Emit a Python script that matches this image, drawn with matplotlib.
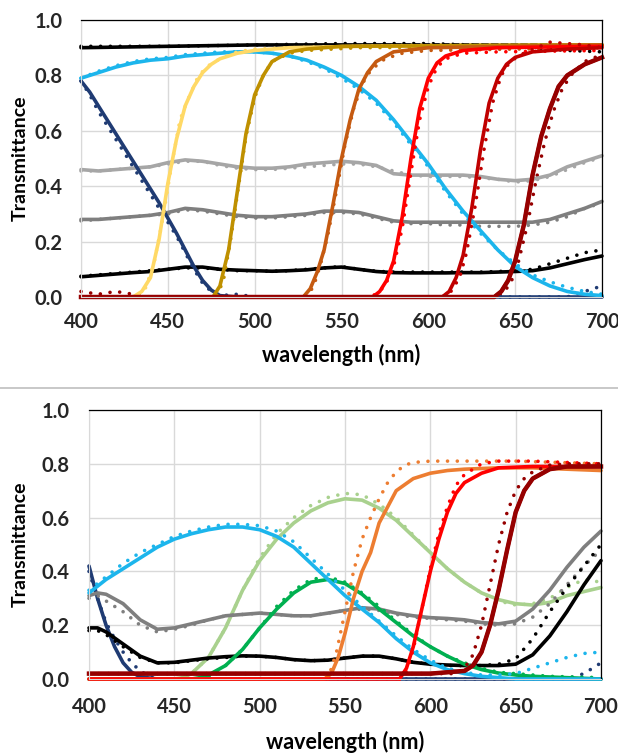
import matplotlib
matplotlib.use("Agg")
import matplotlib.pyplot as plt
from matplotlib.lines import Line2D

plt.rcParams["font.family"] = ["Lato", "DejaVu Sans"]
plt.rcParams["font.weight"] = "bold"

# ---------------------------------------------------------------------------
# data
# ---------------------------------------------------------------------------
wl10 = list(range(400, 701, 10))

# ----- top panel -----
top_black_hi_wl = [400, 450, 500, 550, 600, 650, 700]
top_black_hi = [0.90, 0.905, 0.91, 0.91, 0.91, 0.91, 0.91]
top_black_hi_dot_wl = [400, 450, 500, 550, 600, 650, 680, 700]
top_black_hi_dot = [0.905, 0.905, 0.91, 0.915, 0.915, 0.905, 0.89, 0.885]

top_cyan = [0.79, 0.81, 0.83, 0.845, 0.855, 0.86, 0.87, 0.875, 0.88, 0.885, 0.885,
            0.88, 0.87, 0.855, 0.83, 0.80, 0.76, 0.71, 0.64, 0.56, 0.48,
            0.39, 0.31, 0.24, 0.17, 0.11, 0.07, 0.04, 0.02, 0.01, 0.005]
top_cyan_dot = [0.79, 0.815, 0.835, 0.85, 0.86, 0.865, 0.875, 0.88, 0.885, 0.885, 0.885,
                0.88, 0.87, 0.85, 0.825, 0.79, 0.75, 0.70, 0.63, 0.55, 0.47,
                0.38, 0.30, 0.23, 0.17, 0.12, 0.08, 0.055, 0.035, 0.02, 0.01]

top_navy_wl = [400, 405, 410, 415, 420, 425, 430, 435, 440, 445, 450, 455, 460,
               465, 470, 475, 480, 490, 700]
top_navy = [0.78, 0.74, 0.69, 0.64, 0.59, 0.54, 0.49, 0.44, 0.39, 0.34, 0.285, 0.23,
            0.17, 0.11, 0.06, 0.025, 0.005, 0.0, 0.0]
top_navy_dot_wl = [400, 405, 410, 415, 420, 425, 430, 435, 440, 445, 450, 455, 460,
                   465, 470, 475, 480, 490, 500, 680, 690, 700]
top_navy_dot = [0.78, 0.73, 0.67, 0.62, 0.57, 0.52, 0.47, 0.42, 0.37, 0.32, 0.27, 0.22,
                0.16, 0.10, 0.05, 0.02, 0.005, 0.01, 0.0, 0.0, 0.02, 0.04]

top_lgray = [0.46, 0.455, 0.46, 0.465, 0.47, 0.485, 0.495, 0.49, 0.48, 0.47, 0.465,
             0.465, 0.47, 0.48, 0.485, 0.49, 0.485, 0.475, 0.445, 0.44, 0.44,
             0.44, 0.44, 0.435, 0.425, 0.42, 0.425, 0.44, 0.47, 0.49, 0.51]
top_lgray_dot = [0.455, 0.455, 0.46, 0.465, 0.47, 0.48, 0.49, 0.49, 0.475, 0.465, 0.46,
                 0.46, 0.465, 0.47, 0.475, 0.48, 0.48, 0.47, 0.455, 0.44, 0.435,
                 0.435, 0.435, 0.43, 0.425, 0.415, 0.42, 0.435, 0.46, 0.485, 0.505]

top_gray = [0.28, 0.28, 0.285, 0.29, 0.295, 0.305, 0.32, 0.315, 0.305, 0.295, 0.29,
            0.29, 0.295, 0.30, 0.31, 0.31, 0.305, 0.29, 0.275, 0.27, 0.27,
            0.27, 0.27, 0.27, 0.27, 0.27, 0.27, 0.28, 0.30, 0.32, 0.345]
top_gray_dot = [0.275, 0.28, 0.285, 0.29, 0.295, 0.30, 0.315, 0.31, 0.30, 0.29, 0.285,
                0.285, 0.29, 0.295, 0.305, 0.305, 0.30, 0.285, 0.27, 0.265, 0.265,
                0.26, 0.26, 0.255, 0.255, 0.255, 0.26, 0.27, 0.29, 0.32, 0.34]

top_black_lo = [0.073, 0.078, 0.083, 0.088, 0.092, 0.10, 0.108, 0.108, 0.10, 0.097, 0.095,
                0.093, 0.095, 0.098, 0.105, 0.108, 0.10, 0.092, 0.088, 0.087, 0.087,
                0.087, 0.088, 0.088, 0.09, 0.092, 0.095, 0.105, 0.12, 0.135, 0.148]
top_black_lo_dot = [0.075, 0.08, 0.085, 0.09, 0.095, 0.10, 0.105, 0.105, 0.10, 0.095, 0.095,
                    0.093, 0.095, 0.10, 0.105, 0.11, 0.10, 0.093, 0.09, 0.09, 0.09,
                    0.09, 0.09, 0.09, 0.092, 0.095, 0.10, 0.12, 0.14, 0.16, 0.17]

top_yellow_wl = [400, 430, 435, 440, 445, 450, 455, 460, 465, 470, 475, 480, 490, 500, 520, 560, 700]
top_yellow = [0, 0, 0.02, 0.07, 0.21, 0.41, 0.57, 0.69, 0.76, 0.81, 0.84, 0.86, 0.88,
              0.89, 0.90, 0.905, 0.91]
top_yellow_dot_wl = [400, 432, 437, 442, 447, 452, 457, 462, 467, 472, 480, 490, 500, 520, 600, 700]
top_yellow_dot = [0, 0, 0.03, 0.12, 0.28, 0.47, 0.64, 0.72, 0.79, 0.83, 0.86, 0.885,
                  0.895, 0.90, 0.91, 0.91]

top_gold_wl = [400, 476, 480, 485, 490, 495, 500, 505, 510, 520, 530, 550, 700]
top_gold = [0, 0, 0.04, 0.17, 0.38, 0.59, 0.73, 0.80, 0.85, 0.885, 0.895, 0.905, 0.91]
top_gold_dot_wl = [400, 478, 482, 486, 490, 495, 500, 505, 510, 520, 530, 560, 700]
top_gold_dot = [0, 0, 0.06, 0.20, 0.37, 0.58, 0.72, 0.80, 0.85, 0.88, 0.89, 0.90, 0.905]

top_orange_wl = [400, 528, 532, 536, 540, 545, 550, 555, 560, 565, 570, 580, 600, 650, 700]
top_orange = [0, 0, 0.03, 0.09, 0.17, 0.33, 0.50, 0.64, 0.75, 0.81, 0.85, 0.885, 0.90, 0.905, 0.91]
top_orange_dot_wl = [400, 530, 534, 538, 542, 547, 552, 557, 562, 567, 575, 585, 600, 700]
top_orange_dot = [0, 0, 0.04, 0.12, 0.22, 0.38, 0.55, 0.68, 0.77, 0.82, 0.86, 0.88, 0.89, 0.90]

top_red_wl = [400, 568, 572, 576, 580, 585, 590, 595, 600, 605, 610, 620, 640, 700]
top_red = [0, 0, 0.02, 0.06, 0.13, 0.29, 0.50, 0.68, 0.79, 0.845, 0.87, 0.89, 0.90, 0.905]
top_red_dot_wl = [400, 565, 570, 575, 580, 585, 590, 595, 600, 605, 610, 620, 640, 700]
top_red_dot = [0, 0, 0.01, 0.04, 0.11, 0.25, 0.45, 0.64, 0.76, 0.83, 0.86, 0.88, 0.885, 0.89]

top_dred_wl = [400, 608, 612, 616, 620, 625, 630, 635, 640, 645, 650, 660, 680, 700]
top_dred = [0, 0, 0.02, 0.07, 0.15, 0.32, 0.53, 0.70, 0.79, 0.84, 0.865, 0.885, 0.895, 0.90]
top_dred_dot_wl = [400, 608, 613, 618, 622, 627, 632, 637, 642, 647, 655, 670, 690, 700]
top_dred_dot = [0, 0, 0.02, 0.07, 0.16, 0.33, 0.53, 0.70, 0.80, 0.85, 0.88, 0.92, 0.91, 0.90]

top_ddred_wl = [400, 638, 642, 646, 650, 655, 660, 665, 670, 675, 680, 690, 700]
top_ddred = [0, 0, 0.02, 0.06, 0.13, 0.26, 0.44, 0.58, 0.68, 0.76, 0.80, 0.84, 0.865]
top_ddred_dot_wl = [400, 410, 420, 430, 440, 640, 644, 648, 652, 657, 662, 667, 672, 677,
                    682, 690, 700]
top_ddred_dot = [0.02, 0.01, 0.02, 0.01, 0.0, 0.0, 0.02, 0.06, 0.13, 0.26, 0.42, 0.56,
                 0.67, 0.75, 0.80, 0.85, 0.875]

# ----- bottom panel -----
bot_cyan = [0.32, 0.37, 0.41, 0.45, 0.49, 0.52, 0.54, 0.555, 0.565, 0.565, 0.555,
            0.53, 0.49, 0.43, 0.37, 0.31, 0.26, 0.21, 0.15, 0.10, 0.06,
            0.035, 0.02, 0.01, 0.005, 0.0, 0.0, 0.0, 0.0, 0.0, 0.0]
bot_cyan_dot = [0.33, 0.38, 0.43, 0.47, 0.50, 0.53, 0.55, 0.565, 0.575, 0.575, 0.57,
                0.55, 0.51, 0.45, 0.39, 0.33, 0.27, 0.215, 0.16, 0.11, 0.07,
                0.04, 0.025, 0.015, 0.015, 0.02, 0.04, 0.06, 0.08, 0.095, 0.10]

bot_navy_wl = [400, 405, 410, 415, 420, 425, 430, 440, 700]
bot_navy = [0.42, 0.30, 0.20, 0.12, 0.06, 0.025, 0.008, 0.0, 0.0]
bot_navy_dot_wl = [400, 405, 410, 415, 420, 425, 430, 435, 440, 680, 690, 700]
bot_navy_dot = [0.40, 0.30, 0.21, 0.15, 0.10, 0.06, 0.03, 0.01, 0.0, 0.0, 0.02, 0.06]

bot_gray_wl = [400, 405] + wl10[1:]
bot_gray = [0.31, 0.32, 0.315, 0.28, 0.22, 0.185, 0.19, 0.205, 0.22, 0.235, 0.24, 0.245,
            0.24, 0.235, 0.235, 0.245, 0.255, 0.265, 0.26, 0.245, 0.235, 0.228,
            0.225, 0.22, 0.21, 0.205, 0.215, 0.26, 0.33, 0.415, 0.49, 0.55]
bot_gray_dot = [0.30, 0.31, 0.29, 0.25, 0.20, 0.175, 0.185, 0.20, 0.22, 0.235, 0.24, 0.245,
                0.24, 0.235, 0.235, 0.245, 0.255, 0.26, 0.255, 0.24, 0.23, 0.225,
                0.22, 0.215, 0.205, 0.20, 0.205, 0.23, 0.28, 0.35, 0.42, 0.48]

bot_black_wl = [400, 405] + wl10[1:]
bot_black = [0.19, 0.19, 0.175, 0.13, 0.085, 0.06, 0.062, 0.07, 0.078, 0.083, 0.086, 0.085,
             0.08, 0.072, 0.068, 0.07, 0.078, 0.085, 0.085, 0.075, 0.062, 0.055,
             0.052, 0.05, 0.05, 0.05, 0.055, 0.09, 0.16, 0.25, 0.35, 0.44]
bot_black_dot = [0.18, 0.18, 0.165, 0.12, 0.08, 0.06, 0.06, 0.068, 0.075, 0.08, 0.085, 0.085,
                 0.08, 0.072, 0.068, 0.07, 0.078, 0.085, 0.085, 0.075, 0.062, 0.055,
                 0.05, 0.05, 0.05, 0.055, 0.075, 0.15, 0.25, 0.34, 0.42, 0.50]

bot_lgreen_wl = [400, 450, 455] + wl10[6:]
bot_lgreen = [0, 0, 0.005, 0.02, 0.08, 0.19, 0.33, 0.44, 0.52, 0.58, 0.625, 0.655, 0.67,
              0.665, 0.635, 0.59, 0.53, 0.47, 0.41, 0.36, 0.32, 0.295, 0.28, 0.275,
              0.285, 0.31, 0.325, 0.34]
bot_lgreen_dot_wl = [400, 455] + wl10[6:]
bot_lgreen_dot = [0, 0, 0.02, 0.08, 0.19, 0.33, 0.45, 0.54, 0.60, 0.645, 0.675, 0.69,
                  0.685, 0.65, 0.60, 0.535, 0.47, 0.41, 0.36, 0.32, 0.29, 0.275, 0.28,
                  0.30, 0.34, 0.37, 0.36]

bot_green_wl = [400, 460, 465, 470, 480, 490, 500, 510, 520, 530, 540, 550, 560, 570, 580,
                590, 600, 610, 620, 630, 640, 650, 660, 680, 700]
bot_green = [0, 0, 0.005, 0.015, 0.05, 0.11, 0.19, 0.26, 0.32, 0.36, 0.37, 0.355, 0.315,
             0.26, 0.21, 0.16, 0.12, 0.085, 0.055, 0.035, 0.022, 0.015, 0.01, 0.005, 0.0]
bot_green_dot_wl = [465, 470, 480, 490, 500, 510, 520, 530, 540, 550, 560, 570, 580, 590,
                    600, 610, 620, 630, 640, 650, 670, 700]
bot_green_dot = [0, 0.01, 0.05, 0.11, 0.19, 0.27, 0.33, 0.37, 0.38, 0.36, 0.32, 0.27, 0.215,
                 0.165, 0.12, 0.085, 0.06, 0.04, 0.025, 0.02, 0.01, 0.005]

bot_orange_wl = [400, 538, 542, 546, 550, 555, 560, 565, 570, 575, 580, 590, 600, 610,
                 620, 640, 660, 680, 700]
bot_orange = [0, 0, 0.02, 0.08, 0.17, 0.30, 0.40, 0.47, 0.58, 0.64, 0.70, 0.745, 0.765,
              0.775, 0.78, 0.785, 0.785, 0.78, 0.775]
bot_orange_dot_wl = [540, 545, 550, 555, 560, 565, 570, 575, 580, 585, 590, 600, 650, 700]
bot_orange_dot = [0.0, 0.10, 0.25, 0.40, 0.52, 0.60, 0.67, 0.73, 0.77, 0.795, 0.805,
                  0.81, 0.81, 0.80]

bot_red_wl = [400, 582, 586, 590, 595, 600, 605, 610, 615, 620, 630, 640, 660, 700]
bot_red = [0, 0, 0.04, 0.12, 0.26, 0.40, 0.52, 0.62, 0.69, 0.73, 0.765, 0.785, 0.79, 0.79]
bot_red_dot_wl = [582, 586, 590, 595, 600, 605, 610, 615, 620, 630, 640, 660, 700]
bot_red_dot = [0, 0.03, 0.11, 0.26, 0.41, 0.54, 0.64, 0.72, 0.76, 0.80, 0.81, 0.81, 0.80]

bot_dred_wl = [400, 600, 620, 625, 630, 635, 640, 645, 650, 655, 660, 670, 680, 700]
bot_dred = [0.02, 0.02, 0.03, 0.05, 0.10, 0.20, 0.33, 0.48, 0.62, 0.70, 0.745, 0.78, 0.79, 0.79]
bot_dred_dot_wl = [400, 615, 620, 625, 630, 635, 640, 645, 650, 655, 660, 670, 680, 700]
bot_dred_dot = [0.02, 0.02, 0.04, 0.09, 0.20, 0.35, 0.50, 0.62, 0.70, 0.745, 0.77, 0.795,
                0.80, 0.80]

x_ticks = [400, 450, 500, 550, 600, 650, 700]
y_ticks = [0.0, 0.2, 0.4, 0.6, 0.8, 1.0]

# colours (Excel palette)
c_black = "#000000"
c_cyan = "#1CB5EC"
c_navy = "#1F3B73"
c_lgray = "#A6A6A6"
c_gray = "#7F7F7F"
c_yellow = "#FFD966"
c_gold = "#BF9000"
c_brown = "#C55A11"
c_red = "#FF0000"
c_dred = "#C00000"
c_ddred = "#960000"
c_lgreen = "#A9D18E"
c_green = "#00B050"
c_orange = "#ED7D31"

LW = 2.6
DOT = (0, (0.01, 2.7))


def pair(ax, x, y, xd, yd, color):
    ax.plot(x, y, color=color, lw=LW, solid_capstyle="round", clip_on=False)
    ax.plot(xd, yd, color=color, lw=LW, linestyle=DOT, dash_capstyle="round",
            clip_on=False)


def style(ax, xpad, ypad, xlab_y, ylab_x):
    ax.set_xlim(400, 700)
    ax.set_ylim(0, 1.0)
    ax.set_xticks(x_ticks)
    ax.set_yticks(y_ticks)
    ax.set_yticklabels([f"{v:.1f}" for v in y_ticks])
    ax.grid(True, color="#D9D9D9", lw=1.0)
    ax.set_axisbelow(True)
    ax.tick_params(length=0, labelsize=14.5, colors="#262626")
    ax.tick_params(axis="x", pad=xpad)
    ax.tick_params(axis="y", pad=ypad)
    for lab in ax.get_xticklabels() + ax.get_yticklabels():
        lab.set_fontweight("bold")
    for side in ("top", "right"):
        ax.spines[side].set_color("black")
        ax.spines[side].set_linewidth(0.9)
    ax.spines["left"].set_color("#D9D9D9")
    ax.spines["bottom"].set_color("#D9D9D9")
    ax.set_xlabel("wavelength (nm)", fontsize=15.5, fontweight="bold", va="center")
    ax.set_ylabel("Transmittance", fontsize=14, fontweight="bold", va="center")
    ax.xaxis.set_label_coords(0.5, xlab_y)
    ax.yaxis.set_label_coords(ylab_x, 0.5)


W, H = 618, 753
fig = plt.figure(figsize=(W / 100, H / 100), dpi=100)

ax1 = fig.add_axes([81 / W, 1 - 297 / H, 521 / W, 277 / H])
ax2 = fig.add_axes([89 / W, 1 - 679 / H, 512 / W, 269 / H])

# top panel
pair(ax1, top_ddred_wl, top_ddred, top_ddred_dot_wl, top_ddred_dot, c_ddred)
pair(ax1, top_black_hi_wl, top_black_hi, top_black_hi_dot_wl, top_black_hi_dot, c_black)
pair(ax1, wl10, top_lgray, wl10, top_lgray_dot, c_lgray)
pair(ax1, wl10, top_gray, wl10, top_gray_dot, c_gray)
pair(ax1, wl10, top_black_lo, wl10, top_black_lo_dot, c_black)
pair(ax1, top_navy_wl, top_navy, top_navy_dot_wl, top_navy_dot, c_navy)
pair(ax1, wl10, top_cyan, wl10, top_cyan_dot, c_cyan)
pair(ax1, top_yellow_wl, top_yellow, top_yellow_dot_wl, top_yellow_dot, c_yellow)
pair(ax1, top_gold_wl, top_gold, top_gold_dot_wl, top_gold_dot, c_gold)
pair(ax1, top_orange_wl, top_orange, top_orange_dot_wl, top_orange_dot, c_brown)
pair(ax1, top_red_wl, top_red, top_red_dot_wl, top_red_dot, c_red)
pair(ax1, top_dred_wl, top_dred, top_dred_dot_wl, top_dred_dot, c_dred)
ax1.plot(top_ddred_wl, top_ddred, color=c_ddred, lw=LW + 0.6, clip_on=False)
style(ax1, 11, 13, (297 - 355) / 277, (20 - 81) / 521)

# bottom panel
pair(ax2, bot_navy_wl, bot_navy, bot_navy_dot_wl, bot_navy_dot, c_navy)
pair(ax2, bot_lgreen_wl, bot_lgreen, bot_lgreen_dot_wl, bot_lgreen_dot, c_lgreen)
pair(ax2, bot_gray_wl, bot_gray, bot_gray_wl, bot_gray_dot, c_gray)
pair(ax2, bot_black_wl, bot_black, bot_black_wl, bot_black_dot, c_black)
pair(ax2, bot_green_wl, bot_green, bot_green_dot_wl, bot_green_dot, c_green)
pair(ax2, wl10, bot_cyan, wl10, bot_cyan_dot, c_cyan)
pair(ax2, bot_orange_wl, bot_orange, bot_orange_dot_wl, bot_orange_dot, c_orange)
pair(ax2, bot_red_wl, bot_red, bot_red_dot_wl, bot_red_dot, c_red)
pair(ax2, bot_dred_wl, bot_dred, bot_dred_dot_wl, bot_dred_dot, c_ddred)
ax2.plot(bot_dred_wl, bot_dred, color=c_ddred, lw=LW + 0.6, clip_on=False)
style(ax2, 13, 14, (679 - 742) / 269, (20 - 89) / 512)

# separator between the two panels
fig.add_artist(Line2D([0, 1], [1 - 388 / H, 1 - 388 / H], color="#BFBFBF", lw=1.2))

fig.savefig("out.png", dpi=100)
